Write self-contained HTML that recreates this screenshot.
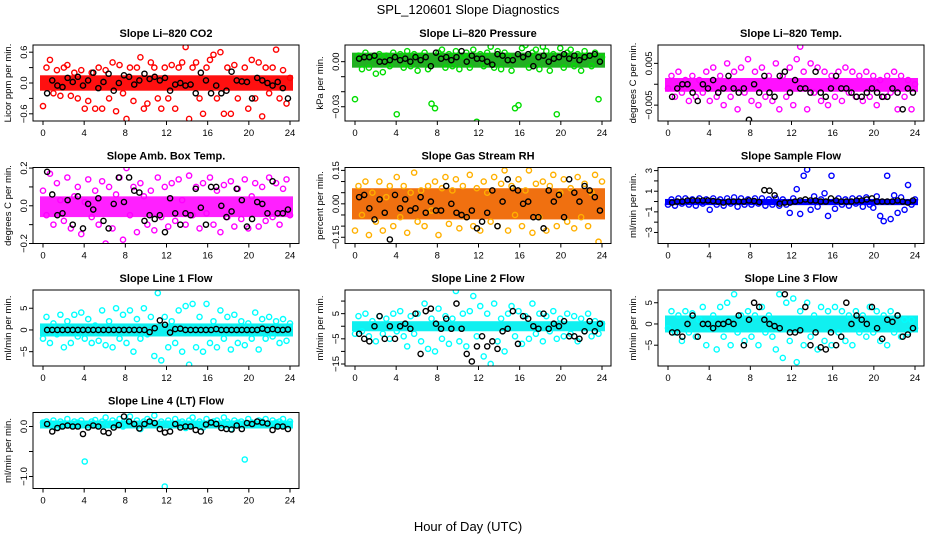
<!DOCTYPE html>
<html><head><meta charset="utf-8"><style>
html,body{margin:0;padding:0;background:#fff;width:936px;height:540px;overflow:hidden}
svg text{font-family:"Liberation Sans",Arial,sans-serif}
</style></head><body>
<svg id="chart" width="936" height="540" viewBox="0 0 936 540" xmlns="http://www.w3.org/2000/svg">
<text x="468" y="14" text-anchor="middle" font-size="13">SPL_120601  Slope Diagnostics</text>
<text x="468" y="531" text-anchor="middle" font-size="13">Hour of Day (UTC)</text>
</svg>
<script>
const xTicks = [0,4,8,12,16,20,24];
const co2C = [-0.45,0.3,0.45,-0.2,0.25,-0.25,0.3,0.35,-0.25,0.2,-0.3,0.25,-0.5,-0.35,0.2,-0.5,0.3,-0.5,0.25,-0.3,0.4,-0.55,0.35,-0.2,-0.7,0.3,-0.35,0.3,0.5,-0.5,-0.4,0.4,0.3,-0.3,-0.5,0.3,-0.3,0.35,-0.5,0.3,0.4,0.7,-0.7,0.3,0.4,-0.3,-0.6,0.3,0.45,0.55,-0.3,0.6,-0.6,0.3,-0.6,0.35,-0.3,0.8,0.3,-0.5,0.45,-0.3,0.4,-0.65,0.3,-0.2,0.3,0.65,-0.3,0.25,-0.4,0.1];
const co2K = [-0.2,0.05,-0.05,-0.08,0.1,0.02,0.12,-0.05,0.05,0.2,-0.1,0.02,0.18,-0.15,0,0.15,0.12,-0.03,0.05,0.18,0.08,0.12,0.05,0.1,-0.15,-0.03,0,-0.05,-0.03,-0.2,0.2,0.05,-0.2,-0.05,-0.2,-0.15,0.22,0.05,0.03,0.02,-0.3,0.1,0.05,0.0,-0.05,0.02,-0.1,-0.3];
const presC = [-0.025,0.004,-0.005,0.006,-0.004,0.003,-0.008,0.005,-0.007,0.004,-0.003,0.006,-0.035,0.005,-0.004,0.007,-0.003,0.005,-0.006,0.004,0.006,-0.005,-0.028,-0.031,0.006,0.008,-0.004,0.005,-0.003,0.007,-0.005,0.004,0.006,-0.004,0.008,-0.040,0.005,-0.003,0.006,0.010,-0.004,0.007,-0.005,0.006,0.004,-0.006,-0.031,-0.029,0.009,0.011,-0.004,0.006,0.008,-0.005,0.010,0.007,-0.006,0.005,-0.035,0.009,-0.004,0.006,0.008,-0.003,0.005,-0.006,0.007,0.004,-0.003,0.006,-0.025,0.003];
const presK = [0.002,0.003,0.003,0.004,0,0,0.001,0.003,0.001,0.002,0,0.003,0.001,0.003,-0.003,0.006,0.002,0.003,0.001,0.003,0.007,0,0.004,0.002,0.002,0,-0.002,0.005,0.004,0.001,0.001,0.005,0.003,0.005,-0.003,0.003,0.004,0,0.002,0.003,0.005,0.002,0.004,0.001,0.003,0.004,0.005,0];
const tempC = [-0.001,0.002,-0.003,0.003,-0.002,0.001,-0.004,0.002,-0.003,0.001,-0.002,0.003,-0.004,0.004,-0.003,0.002,-0.005,0.005,-0.003,0.003,-0.006,0.004,-0.002,0.006,-0.004,0.003,-0.005,0.004,-0.003,0.002,-0.004,0.005,-0.006,0.002,-0.003,0.004,-0.005,0.006,0.009,0.003,-0.006,0.005,-0.002,0.004,-0.004,0.003,-0.005,0.002,-0.003,0.003,-0.004,0.004,-0.002,0.003,-0.003,0.002,-0.004,0.003,-0.003,0.002,-0.005,0.001,-0.003,0.002,-0.002,0.003,-0.006,0.002,-0.003,0.001,-0.006,0.000];
const tempK = [-0.003,-0.001,0,0,-0.002,-0.004,0,-0.001,0.001,-0.002,-0.001,0.002,-0.001,-0.002,-0.001,-0.0085,0,-0.002,0.002,-0.002,-0.003,0.002,0.003,-0.002,0.001,-0.001,-0.001,-0.002,0.003,-0.002,-0.003,-0.001,0.002,-0.001,-0.001,-0.002,-0.003,-0.003,-0.002,-0.001,-0.002,-0.003,-0.003,-0.001,-0.002,-0.006,-0.001,-0.002];
const ambC = [0.08,-0.05,0.17,-0.1,0.12,0.03,-0.08,0.15,-0.12,0.05,0.1,-0.15,0.02,0.14,-0.06,0.08,-0.1,0.13,-0.2,0.1,-0.12,0.06,0.15,-0.18,0.2,-0.05,0.1,-0.14,0.12,0.05,-0.1,0.08,-0.13,0.15,-0.06,0.1,-0.11,0.12,-0.08,0.14,0.03,-0.1,0.16,-0.05,0.1,-0.12,0.12,-0.04,0.15,-0.1,0.08,-0.14,0.11,-0.06,0.13,-0.11,0.09,-0.07,0.14,-0.12,0.05,0.12,-0.11,0.1,-0.08,0.15,-0.06,0.12,-0.1,0.09,0.14,-0.05];
const ambK = [0.18,0.06,-0.05,-0.04,0.03,-0.1,0.05,-0.12,0.01,-0.02,0.04,-0.08,-0.12,0.01,0.15,0.02,0.15,0.08,0.07,-0.08,-0.05,-0.07,-0.05,-0.14,0.04,-0.04,-0.1,-0.04,-0.05,0.09,-0.01,-0.1,0.1,0.1,0,-0.06,-0.03,0.09,0.03,-0.11,-0.07,0.02,0.01,-0.04,0.13,-0.04,-0.04,-0.02];
const rhC = [-0.12,0.08,-0.05,0.1,-0.14,0.05,-0.08,0.1,-0.12,0.03,0.08,-0.1,0.12,-0.06,0.08,-0.13,0.05,0.14,-0.08,0.06,-0.1,0.08,-0.03,0.1,-0.14,0.07,0.12,-0.09,0.06,0.11,-0.11,0.08,-0.06,0.13,-0.1,0.07,-0.12,0.1,0.05,-0.08,0.12,-0.1,0.09,0.15,-0.12,0.08,-0.05,0.11,-0.1,0.06,0.15,-0.13,0.09,-0.06,0.1,-0.12,0.08,0.13,-0.1,0.05,0.11,-0.08,0.07,-0.11,0.12,-0.06,0.09,-0.1,0.05,0.13,-0.17,0.1];
const rhK = [0.03,0.04,-0.02,-0.07,0.02,-0.04,-0.16,0.04,-0.02,0.02,-0.03,-0.02,0.03,-0.04,0.01,-0.03,-0.03,0.08,0,-0.04,-0.05,-0.06,-0.03,-0.11,-0.08,-0.04,0.06,-0.1,0.01,0.11,0.07,0.06,0,0.01,-0.06,-0.06,-0.11,0.06,0.01,0.04,-0.06,0.11,0.05,0.01,0.08,0.06,0.03,-0.03];
const sampC = [-0.3,0.2,-0.4,0.3,-0.2,0.3,-0.3,0.2,-0.4,0.3,-0.2,0.2,-0.8,0.3,-0.3,0.2,-0.4,0.3,-0.2,0.4,-0.5,0.3,-0.3,0.2,-0.3,0.3,-0.2,0.3,-0.4,0.2,-0.3,0.3,-0.4,0.2,-0.3,-1.1,0.3,1.2,-1.2,2.5,3.1,-0.8,0.5,-0.5,0.2,0.8,-1.4,2.5,-0.7,0.3,-0.3,0.2,-0.4,0.3,-0.2,0.3,-0.5,0.4,-0.3,-0.6,0.5,-1.4,-1.9,2.5,-1.7,0.6,-1.1,0.4,-0.8,1.6,-0.3,0.2];
const sampK = [-0.1,0,0,0.1,0.1,0.1,0.1,0.1,0.05,0,-0.1,0,0,0,0,0.1,0.05,-0.05,1.1,1.05,0.6,-0.2,-0.1,-0.1,0,0.1,0.2,0.1,0.1,0,0,0.3,0.1,0,0,0,0.1,0.1,0.2,0.3,0,0,0,0,0.1,0,-0.1,0.1];
const l1C = [-2,3,-3,1.5,-1,3.5,-4,2,-3,3.5,-1.5,4,-2,2.5,-3,1,-2.5,4.5,-3.5,2,-4,5,-2,3.5,-3,4.5,-5,2.5,-2,5,-1,3,-6,8.5,-7,3,-4,2,-3,4.5,-5,5.5,-8,6,-4,3,-5,6,-3,2,-4,4.5,-2,3,-4.5,3.5,-3,2,-3.5,1.5,-2,4,-4.5,2.5,-2,3,-1.5,2,-3,2.5,-2.5,1.5];
const l1K = [0,0,0,0,0,0,0,0,0,0,0,0,0,0,0,0,0,0,0,0,-0.5,0.4,2.2,1.2,-0.6,0.2,0.3,0,0,0,0,0,0,0.2,0,0,0,0,0,0,0,0,0.3,0,0.2,0,0,0.1];
const l2C = [-3,4,-2,5,-4,2,-6,4,-3,3,-5,5,-2,6,-4,-8,4,-3,5,-6,9,-9,3,-10,7,-5,4,-7,3,14,-6,5,-8,6,12,-4,8,-12,5,-15,9,-6,3,-10,5,8,-4,6,-7,4,-5,9,-3,5,-6,4,-2,6,-5,3,-4,5,-3,4,-6,3,-2,5,-4,2,-3,1];
const l2K = [-3,-5,-6,0,4,-5,0,-5,0,1,-1,5,-11,6,7,1,-1,3,-1,9,-1,-11,-14,-8,-4,-8,-6,-9,-2,-1,6,-7,4,3,0,-1,5,-1,1,0,2,-4,-4,-5,-2,2,-2,1];
const l3C = [-1,3,-2,2,-4,3,-2,2.5,-3,1,4,-5,-1,2,-6,4,-3,5,-5,7,-2,2,-4,3,-3,2,-5,4,-2,2,-3,-6,7,-8,5,-4,6,-9,3,-5,5,-3,2,-6,4,-4,3,-5,4,-2,3,-4,2,-5,3,-2,2,-3,4,-2,3,-4,2,-5,3,-2,2,-3,1,-2,1,-1];
const l3K = [-2,-2,-3,0,2,-3,0,0,-1,0,0,0.5,0,2,-5,1,5,4,1,0,-0.5,-1,7,-2,-2,-1.5,4,-5,-2,-5.5,-6,-2,-5,-3,5,0,2,1,0,4,-1,-3.5,1,0.5,2,-3,-2.5,-1];
const l4C = [0.08,0.1,0.05,0.12,-0.02,0.1,0.06,0.15,0.02,0.1,0.08,0.12,-0.7,0.05,0.1,0.13,0.02,0.1,0.18,0.05,0.12,0.08,0.15,0,0.1,0.2,0.05,0.12,-0.05,0.1,0.15,0.08,0.22,0.05,0.1,-1.2,0.12,0.05,0.15,0.08,0.1,-0.03,0.12,0.18,0.05,0.1,-0.02,0.15,0.08,0.1,0.12,0.05,0.18,0.1,-0.05,0.12,0.08,0.1,-0.66,0.15,0.08,0.05,0.12,0.1,0.15,0.05,0.12,0.08,0.1,0.15,0.05,0.1];
const l4K = [0.05,-0.1,-0.03,0,0.02,0,0,-0.15,-0.02,0.02,0,-0.1,-0.13,-0.02,0.03,0.2,0.1,0.05,-0.04,0.05,0.1,0.07,-0.05,-0.12,-0.1,0.05,-0.02,0,0,-0.07,-0.1,0.04,0.08,0.05,-0.03,-0.05,-0.06,0.02,-0.05,0.07,0.05,0.1,0.08,0.06,-0.07,0,0,-0.05];
const coreBands = [[-0.15,0.15],[-0.004,0.006],[-0.0018,0.0015],[-0.06,0.05],[-0.07,0.07],[-0.35,0.25],[-1.5,1.5],[-2,2],[-2,2],[-0.04,0.12]];

const NS='http://www.w3.org/2000/svg';
const svg=document.getElementById('chart');
const panels=[
 {key:'co2',title:'Slope Li\u2013820 CO2',ylab:'Licor ppm per min.',c:co2C,k:co2K,lo:-0.74,hi:0.74,ticks:[-0.6,-0.3,0,0.3,0.6],labs:{'-0.6':'\u22120.6','0':'0.0','0.6':'0.6'},col:'#ff0000',core:'#ff1010'},
 {key:'pressure',title:'Slope Li\u2013820 Pressure',ylab:'kPa per min.',c:presC,k:presK,lo:-0.0395,hi:0.0111,ticks:[-0.03,-0.02,-0.01,0],labs:{'-0.03':'\u22120.03','0':'0.00'},col:'#00dd00',core:'#22b022'},
 {key:'temp',title:'Slope Li\u2013820 Temp.',ylab:'degrees C per min.',c:tempC,k:tempK,lo:-0.0088,hi:0.0094,ticks:[-0.005,0,0.005],labs:{'-0.005':'\u22120.005','0.005':'0.005'},col:'#ff00ff',core:'#ff10ff'},
 {key:'amb-box-temp',title:'Slope Amb. Box Temp.',ylab:'degrees C per min.',c:ambC,k:ambK,lo:-0.2,hi:0.203,ticks:[-0.2,-0.1,0,0.1,0.2],labs:{'-0.2':'\u22120.2','0':'0.0','0.2':'0.2'},col:'#ff00ff',core:'#ff20ff'},
 {key:'gas-stream-rh',title:'Slope Gas Stream RH',ylab:'percent per min.',c:rhC,k:rhK,lo:-0.178,hi:0.163,ticks:[-0.15,-0.1,-0.05,0,0.05,0.1,0.15],labs:{'-0.15':'\u22120.15','0':'0.00','0.15':'0.15'},col:'#ffb000',core:'#f07010'},
 {key:'sample-flow',title:'Slope Sample Flow',ylab:'ml/min per min.',c:sampC,k:sampK,lo:-4.07,hi:3.3,ticks:[-3,-2,-1,0,1,2,3],labs:{'-3':'\u22123','-1':'\u22121','1':'1','3':'3'},col:'#0000ff',core:'#0000ff'},
 {key:'line1-flow',title:'Slope Line 1 Flow',ylab:'ml/min per min.',c:l1C,k:l1K,lo:-8.3,hi:9.2,ticks:[-5,0,5],labs:{'-5':'\u22125','0':'0','5':'5'},col:'#00ffff',core:'#10f0f0'},
 {key:'line2-flow',title:'Slope Line 2 Flow',ylab:'ml/min per min.',c:l2C,k:l2K,lo:-15.8,hi:14.4,ticks:[-15,-10,-5,0,5,10],labs:{'-15':'\u221215','-5':'\u22125','5':'5'},col:'#00ffff',core:'#10f0f0'},
 {key:'line3-flow',title:'Slope Line 3 Flow',ylab:'ml/min per min.',c:l3C,k:l3K,lo:-9.9,hi:8.0,ticks:[-5,0,5],labs:{'-5':'\u22125','0':'0','5':'5'},col:'#00ffff',core:'#10f0f0'},
 {key:'line4-flow',title:'Slope Line 4 (LT) Flow',ylab:'ml/min per min.',c:l4C,k:l4K,lo:-1.24,hi:0.28,ticks:[-1,-0.5,0],labs:{'-1':'\u22121.0','0':'0.0'},col:'#00ffff',core:'#10f0f0'}
];
function mk(tag,attrs,parent){const e=document.createElementNS(NS,tag);for(const a in attrs)e.setAttribute(a,attrs[a]);(parent||svg).appendChild(e);return e;}
const colLeft=[33,345,658], rowTop=[45,167.5,290,412.5], W=266, H=76;
panels.forEach((p,i)=>{
  const L=colLeft[i%3], T=rowTop[Math.floor(i/3)];
  const x0=L+10, x1=L+257;
  const xs=h=>x0+(h/24)*(x1-x0);
  const ys=v=>T+H-(v-p.lo)/(p.hi-p.lo)*H;
  const g=mk('g',{});
  
  
  const t=mk('text',{x:L+W/2,y:T-8,'text-anchor':'middle','font-size':'11','font-weight':'bold'},g);
  t.textContent=p.title;
  
  
  const yl=mk('text',{x:L-22,y:T+H/2,'text-anchor':'middle','font-size':'9.5',transform:`rotate(-90 ${L-22} ${T+H/2})`},g);
  yl.textContent=p.ylab;
  
  
  const clipId='clip'+i;
  const cp=mk('clipPath',{id:clipId},g); mk('rect',{x:L,y:T,width:W,height:H},cp);
  const pts=mk('g',{'clip-path':`url(#${clipId})`},g);
  const b=coreBands[i];
  const band=mk('rect',{x:x0-3,y:ys(b[1]),width:x1-x0+6,height:ys(b[0])-ys(b[1]),fill:p.core},pts);
  
  
  p.c.forEach((v,j)=>{
    const c=mk('circle',{cx:xs(j*24/(p.c.length-1)),cy:ys(v),r:2.6,fill:'none',stroke:p.col,'stroke-width':1.4},pts);
    
    
  });
  p.k.forEach((v,j)=>{
    const c=mk('circle',{cx:xs(0.4+j*23.4/(p.k.length-1)),cy:ys(v),r:2.6,fill:'none',stroke:'#000','stroke-width':1.4},pts);
    
    
  });
  const box=mk('rect',{x:L,y:T,width:W,height:H,fill:'none',stroke:'#000','stroke-width':1},g);
  
  
  xTicks.forEach(h=>{
    mk('line',{x1:xs(h),x2:xs(h),y1:T+H,y2:T+H+4,stroke:'#000'},g);
    const tx=mk('text',{x:xs(h),y:T+H+15,'text-anchor':'middle','font-size':'9.5'},g);
    tx.textContent=h;
    
    
  });
  p.ticks.forEach(v=>{
    const y=ys(v);
    mk('line',{x1:L-4,x2:L,y1:y,y2:y,stroke:'#000'},g);
    const lab=p.labs[String(v)];
    if(lab){
      const ty=mk('text',{x:L-6,y:y,'text-anchor':'middle','font-size':'9.5',transform:`rotate(-90 ${L-6} ${y})`},g);
      ty.textContent=lab;
      
      
    }
  });
});
</script>
</body></html>
